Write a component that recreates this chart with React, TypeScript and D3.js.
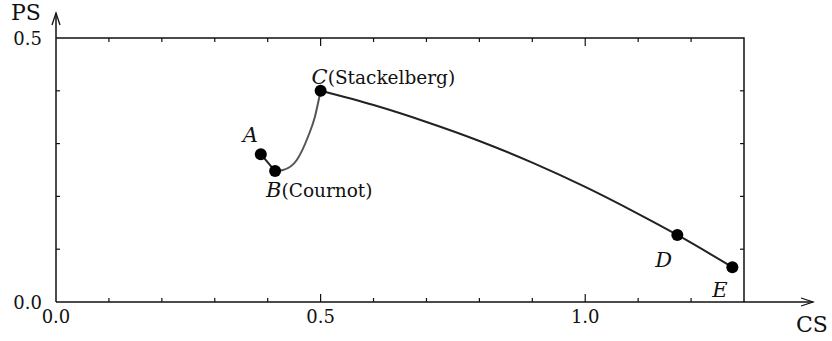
import React, { useEffect, useRef } from "react";
import * as d3 from "d3";

// marked points
const pointNames = ["A", "B", "C", "D", "E"];
const pointNotes = ["", "(Cournot)", "(Stackelberg)", "", ""];
const pointCS = [0.387, 0.414, 0.5, 1.174, 1.278];
const pointPS = [0.28, 0.248, 0.4, 0.127, 0.066];

// curve pieces
const abCS = [0.387, 0.414];
const abPS = [0.28, 0.248];
const bcCS = [0.414, 0.429, 0.455, 0.476, 0.489, 0.5];
const bcPS = [0.248, 0.25, 0.269, 0.3125, 0.35, 0.4];
const ceCS = [0.5, 0.6, 0.7, 0.8, 0.9, 1.0, 1.1, 1.174, 1.278];
const cePS = [0.4, 0.373, 0.341, 0.305, 0.264, 0.218, 0.167, 0.127, 0.066];

const xTicks = [0, 0.5, 1.0];
const yTicks = [0, 0.5];

const W = 832;
const H = 341;
const FONT = "DejaVu Serif";

const App = () => {
  const svgRef = useRef<SVGSVGElement>(null);

  useEffect(() => {
    document.body.style.margin = "0";
    const svg = d3.select(svgRef.current);
    svg.selectAll("*").remove();

    const x = d3.scaleLinear().domain([0, 1.3]).range([56, 744]);
    const y = d3.scaleLinear().domain([0, 0.5]).range([302, 38]);
    const ink = "#111";

    // frame top and right
    svg
      .append("path")
      .attr("d", `M${x(0)},${y(0.5)}H${x(1.3)}V${y(0)}`)
      .attr("fill", "none")
      .attr("stroke", ink)
      .attr("stroke-width", 1.5);

    // axes with arrows
    svg
      .append("line")
      .attr("x1", x(0)).attr("y1", y(0))
      .attr("x2", 813).attr("y2", y(0))
      .attr("stroke", ink).attr("stroke-width", 1.5);
    svg
      .append("line")
      .attr("x1", x(0)).attr("y1", y(0))
      .attr("x2", x(0)).attr("y2", 13)
      .attr("stroke", ink).attr("stroke-width", 1.5);
    svg
      .append("path")
      .attr("d", `M801,${y(0) - 4}L813,${y(0)}L801,${y(0) + 4}`)
      .attr("fill", "none").attr("stroke", ink).attr("stroke-width", 1.3);
    svg
      .append("path")
      .attr("d", `M${x(0) - 4},25L${x(0)},13L${x(0) + 4},25`)
      .attr("fill", "none").attr("stroke", ink).attr("stroke-width", 1.3);

    // inward ticks on all four sides
    const xt = d3.range(1, 13).map((i) => i / 10);
    const yt = d3.range(1, 5).map((i) => i / 10);
    const ticks = svg.append("g").attr("stroke", ink).attr("stroke-width", 1.2);
    xt.forEach((v) => {
      const len = Math.abs(v * 2 - Math.round(v * 2)) < 1e-6 ? 8 : 4;
      ticks.append("line")
        .attr("x1", x(v)).attr("x2", x(v))
        .attr("y1", y(0)).attr("y2", y(0) - len);
      ticks.append("line")
        .attr("x1", x(v)).attr("x2", x(v))
        .attr("y1", y(0.5)).attr("y2", y(0.5) + len);
    });
    yt.forEach((v) => {
      ticks.append("line")
        .attr("x1", x(0)).attr("x2", x(0) + 4)
        .attr("y1", y(v)).attr("y2", y(v));
      ticks.append("line")
        .attr("x1", x(1.3)).attr("x2", x(1.3) - 4)
        .attr("y1", y(v)).attr("y2", y(v));
    });

    // tick labels
    svg.append("g")
      .selectAll("text")
      .data(xTicks)
      .enter()
      .append("text")
      .attr("x", (d) => x(d))
      .attr("y", 323)
      .attr("text-anchor", "middle")
      .attr("font-family", FONT)
      .attr("font-size", 18)
      .attr("fill", ink)
      .text((d) => d.toFixed(1));
    svg.append("g")
      .selectAll("text")
      .data(yTicks)
      .enter()
      .append("text")
      .attr("x", 42)
      .attr("y", (d) => y(d) + 7)
      .attr("text-anchor", "end")
      .attr("font-family", FONT)
      .attr("font-size", 18)
      .attr("fill", ink)
      .text((d) => d.toFixed(1));

    // axis titles
    svg.append("text")
      .attr("x", 11).attr("y", 20)
      .attr("font-family", FONT).attr("font-size", 22)
      .attr("fill", ink).text("PS");
    svg.append("text")
      .attr("x", 796).attr("y", 332)
      .attr("font-family", FONT).attr("font-size", 22)
      .attr("fill", ink).text("CS");

    // curves
    const line = d3.line<[number, number]>()
      .x((d) => x(d[0]))
      .y((d) => y(d[1]));
    const smooth = d3.line<[number, number]>()
      .x((d) => x(d[0]))
      .y((d) => y(d[1]))
      .curve(d3.curveMonotoneX);
    const zip = (a: number[], b: number[]) => a.map((v, i) => [v, b[i]] as [number, number]);

    svg.append("path")
      .attr("d", line(zip(abCS, abPS)))
      .attr("fill", "none").attr("stroke", "#222").attr("stroke-width", 2);
    svg.append("path")
      .attr("d", smooth(zip(bcCS, bcPS)))
      .attr("fill", "none").attr("stroke", "#555").attr("stroke-width", 2);
    svg.append("path")
      .attr("d", smooth(zip(ceCS, cePS)))
      .attr("fill", "none").attr("stroke", "#222").attr("stroke-width", 2);

    // points
    svg.append("g")
      .selectAll("circle")
      .data(pointNames)
      .enter()
      .append("circle")
      .attr("cx", (_, i) => x(pointCS[i]))
      .attr("cy", (_, i) => y(pointPS[i]))
      .attr("r", 6)
      .attr("fill", "#000");

    // point labels
    const offsets = [
      [-18, -12],
      [-9, 26],
      [-9, -7],
      [-22, 32],
      [-20, 30],
    ];
    const labels = svg.append("g")
      .selectAll("text")
      .data(pointNames)
      .enter()
      .append("text")
      .attr("x", (_, i) => x(pointCS[i]) + offsets[i][0])
      .attr("y", (_, i) => y(pointPS[i]) + offsets[i][1])
      .attr("font-family", FONT)
      .attr("font-size", 21)
      .attr("fill", ink);
    labels.append("tspan")
      .attr("font-style", "italic")
      .text((d) => d);
    labels.append("tspan")
      .attr("font-size", 18.5)
      .text((_, i) => pointNotes[i]);
  }, []);

  return <svg ref={svgRef} width={W} height={H} style={{ display: "block", background: "#fff" }} />;
};

export default App;
